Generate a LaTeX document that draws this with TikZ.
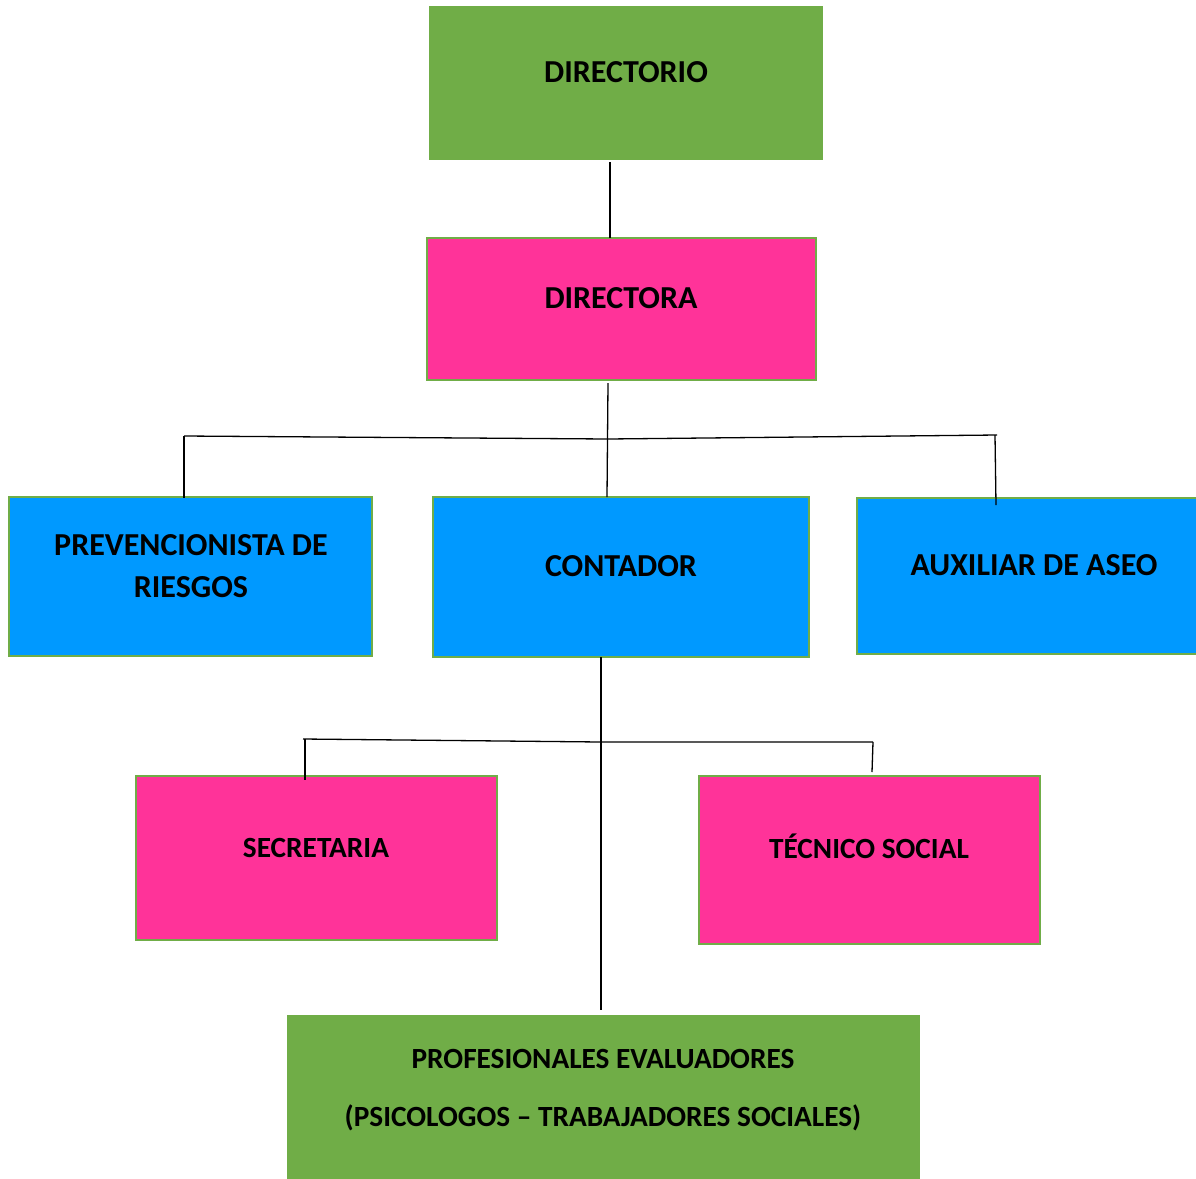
\documentclass[tikz,border=0pt]{standalone}
\usepackage{fontspec}
\setmainfont{Carlito}
\definecolor{cgreen}{HTML}{70AD47}
\definecolor{cpink}{HTML}{FF3399}
\definecolor{cblue}{HTML}{0099FF}
\begin{document}
\begin{tikzpicture}[x=1pt,y=-1pt,
  box/.style={draw=cgreen, line width=2.8pt, inner sep=0pt, outer sep=0pt, anchor=north west},
  plain/.style={draw=none, inner sep=0pt, outer sep=0pt, anchor=north west},
  lbl/.style={font=\fontsize{32}{38}\selectfont\bfseries, inner sep=0pt, align=center},
  slbl/.style={font=\fontsize{29.3}{35}\selectfont\bfseries, inner sep=0pt, align=center},
  conn/.style={draw=black, line width=1.3pt}]
\useasboundingbox (0,0) rectangle (1196,1178);
% boxes
\node[plain, fill=cgreen, minimum width=394pt, minimum height=154pt] (dir) at (429,6) {};
\node[box, fill=cpink, minimum width=389pt, minimum height=142pt] (dra) at (427,238) {};
\node[box, fill=cblue, minimum width=363pt, minimum height=159pt] (pre) at (9,497) {};
\node[box, fill=cblue, minimum width=376pt, minimum height=160pt] (con) at (433,497) {};
\node[box, fill=cblue, minimum width=345pt, minimum height=156pt] (aux) at (857,498) {};
\node[box, fill=cpink, minimum width=361pt, minimum height=164pt] (sec) at (136,776) {};
\node[box, fill=cpink, minimum width=341pt, minimum height=168pt] (tec) at (699,776) {};
\node[plain, fill=cgreen, minimum width=633pt, minimum height=165pt] (pro) at (287,1015) {};
% labels
\node[lbl] (tdir) at (626,72) {DIRECTORIO};
\node[lbl] (tdra) at (621,298) {DIRECTORA};
\node[lbl] (tpre1) at (191,545) {PREVENCIONISTA DE};
\node[lbl] (tpre2) at (191,587) {RIESGOS};
\node[lbl] (tcon) at (621,566) {CONTADOR};
\node[lbl] (taux) at (1034,565) {AUXILIAR DE ASEO};
\node[slbl] (tsec) at (316,848) {SECRETARIA};
\node[slbl] (ttec) at (869,846) {TÉCNICO SOCIAL};
\node[slbl] (tpro1) at (603,1059) {PROFESIONALES EVALUADORES};
\node[slbl] (tpro2) at (603,1118) {(PSICOLOGOS – TRABAJADORES SOCIALES)};
% connector points
\coordinate (a1) at (610,162);
\coordinate (a2) at (610,238);
\coordinate (b1) at (608,383);
\coordinate (b2) at (607,497);
\coordinate (bm) at (608,439);
\coordinate (bl) at (184,436);
\coordinate (blb) at (184,498);
\coordinate (br) at (997,435);
\coordinate (brt) at (995,435);
\coordinate (brb) at (996,505);
\coordinate (c1) at (601,657);
\coordinate (c2) at (601,1010);
\coordinate (cm) at (601,742);
\coordinate (cl) at (303,739);
\coordinate (clt) at (305,739);
\coordinate (clb) at (305,780);
\coordinate (cr) at (873,742);
\coordinate (crb) at (872,772);
% connectors
\draw[conn] (a1) -- (a2);
\draw[conn] (b1) -- (b2);
\draw[conn] (bl) -- (bm) -- (br);
\draw[conn] (bl) -- (blb);
\draw[conn] (brt) -- (brb);
\draw[conn] (c1) -- (c2);
\draw[conn] (cl) -- (cm) -- (cr);
\draw[conn] (clt) -- (clb);
\draw[conn] (cr) -- (crb);
\end{tikzpicture}
\end{document}
